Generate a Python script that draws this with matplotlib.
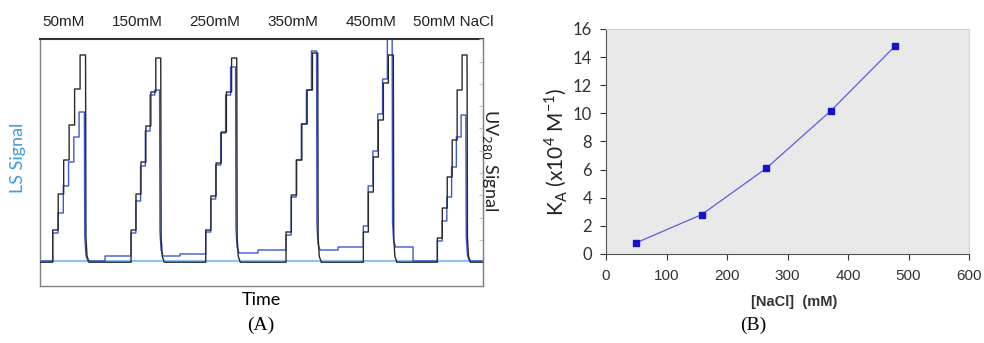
import numpy as np
import matplotlib.pyplot as plt

# ---- panel A: titration traces (time in arbitrary units, signal in arbitrary units) ----
salt_labels = ['50mM', '150mM', '250mM', '350mM', '450mM', '50mM NaCl']
label_x = [23, 97, 175, 253, 331, 413]

peak_start = [12.7, 91.0, 165.7, 246.0, 323.3, 397.3]
peak_end = [45.5, 120.7, 196.7, 277.7, 353.3, 427.0]

uv_levels = [
    [31, 67, 101, 136, 172, 206],
    [31, 67, 99, 135, 169, 203],
    [31, 65, 98, 129, 169, 203],
    [29, 66, 101, 137, 171, 208],
    [29, 69, 104, 141, 178, 206],
    [23, 53, 84, 121, 171, 206],
]
ls_levels = [
    [28, 48, 75, 99, 124, 149],
    [28, 60, 95, 130, 166, 171],
    [29, 62, 96, 128, 166, 194],
    [26, 64, 101, 137, 171, 210],
    [35, 75, 110, 147, 182, 226],
    [20, 40, 64, 94, 124, 146],
]
ls_after_1 = [0, 5, 8, 11, 14, 0]
ls_after_2 = [5, 7, 11, 14, 0, 0]
ls_switch = [65, 140, 218, 298, 373, 443]

# ---- panel B: association constant vs salt ----
nacl_mM = [50, 158, 265, 372, 478]
ka_1e4 = [0.8, 2.8, 6.1, 10.2, 14.8]


def build_trace(levels, base, after1=None, after2=None, switch=None, lag=0.0):
    t, y = [0.0], [base]
    for i, lev in enumerate(levels):
        start, end = peak_start[i], peak_end[i] - lag
        dt = (end - start) / len(lev)
        prev = y[-1]
        for k, v in enumerate(lev):
            ts = start + k * dt
            t += [ts, ts]
            y += [prev, v]
            prev = v
        # sharp drop with a short tail back to baseline
        low = base if after1 is None else after1[i]
        t += [end, end + 0.4, end + 1.5, end + 3.5]
        y += [prev, low + 25, low + 6, low]
        if after1 is not None:
            t += [switch[i], switch[i]]
            y += [after1[i], after2[i]]
    t.append(443.0)
    y.append(y[-1])
    return np.array(t), np.array(y)


plt.rcParams['font.family'] = ['Liberation Sans', 'DejaVu Sans']
fig = plt.figure(figsize=(9.84, 3.43), dpi=100)

# ---------------- panel A ----------------
axA = fig.add_axes([0.0407, 0.1662, 0.4502, 0.7201])
axA.axhline(0, color='#8cc4ef', lw=1.6, zorder=1)
tb, yb = build_trace(ls_levels, 0.0, ls_after_1, ls_after_2, ls_switch, lag=1.2)
# blue trace (light scattering)
axA.plot(tb, yb, color='#3b59d0', lw=1.0, zorder=2)
tk, yk = build_trace(uv_levels, -1.2)
axA.plot(tk, yk, color='#2a2a2a', lw=1.0, zorder=3)
axA.set_xlim(0, 443)
axA.set_ylim(-25, 222)
axA.set_xticks([])
axA.set_yticks([])
for s in ['left', 'bottom', 'right']:
    axA.spines[s].set_color('#808080')
    axA.spines[s].set_linewidth(1.0)
axA.spines['top'].set_color('#333333')
axA.spines['top'].set_linewidth(1.5)

axR = axA.twinx()
axR.set_ylim(-25, 222)
axR.set_yticks(np.arange(21, 222, 22.3))
axR.tick_params(axis='y', direction='in', length=3, color='#c0c0c0', labelright=False)
axR.spines['right'].set_color('#808080')
for s in ['top', 'left', 'bottom']:
    axR.spines[s].set_visible(False)

for lab, x in zip(salt_labels, label_x):
    axA.text(x, 1.07, lab, transform=axA.get_xaxis_transform(), ha='center', va='center',
             fontsize=11, color='#222222')

fig.text(0.2652, 0.125, 'Time', ha='center', va='center', fontsize=13, family='Lato')
fig.text(0.0183, 0.539, 'LS Signal', ha='center', va='center', rotation=90, fontsize=13,
         family='Lato', color='#3d9be0')
fig.text(0.498, 0.534, r'UV$_{280}$ Signal', ha='center', va='center', rotation=270, fontsize=13,
         family='Lato', color='#222222')
fig.text(0.2652, 0.0525, '(A)', ha='center', va='center', fontsize=14, family='Liberation Serif')

# ---------------- panel B ----------------
axB = fig.add_axes([0.6159, 0.2595, 0.3689, 0.656])
axB.set_facecolor('#e9e9e9')
axB.plot(nacl_mM, ka_1e4, color='#5a5ae6', lw=0.9, zorder=2)
axB.plot(nacl_mM, ka_1e4, ls='none', marker='s', ms=4.5, color='#1414c8', zorder=3)
axB.set_xlim(0, 600)
axB.set_ylim(0, 16)
axB.set_xticks(np.arange(0, 601, 100))
axB.set_yticks(np.arange(0, 17, 2))
axB.tick_params(axis='x', length=4, pad=7, labelsize=11, colors='#333333')
axB.tick_params(axis='y', length=4, pad=6, labelsize=12, colors='#333333')
for lbl in axB.get_yticklabels():
    lbl.set_family('Lato')
for s in ['left', 'bottom']:
    axB.spines[s].set_color('#555555')
for s in ['top', 'right']:
    axB.spines[s].set_color('#d2d2d2')

fig.text(0.566, 0.557, r'K$_\mathregular{A}$ (x10$^\mathregular{4}$ M$^\mathregular{-1}$)', ha='center', va='center',
         rotation=90, fontsize=15, family='Lato', color='#222222')
fig.text(0.8066, 0.12, '[NaCl]  (mM)', ha='center', va='center', fontsize=10.5, fontweight='bold',
         color='#333333')
fig.text(0.765, 0.0525, '(B)', ha='center', va='center', fontsize=14, family='Liberation Serif')

fig.savefig('out.png', dpi=100)
